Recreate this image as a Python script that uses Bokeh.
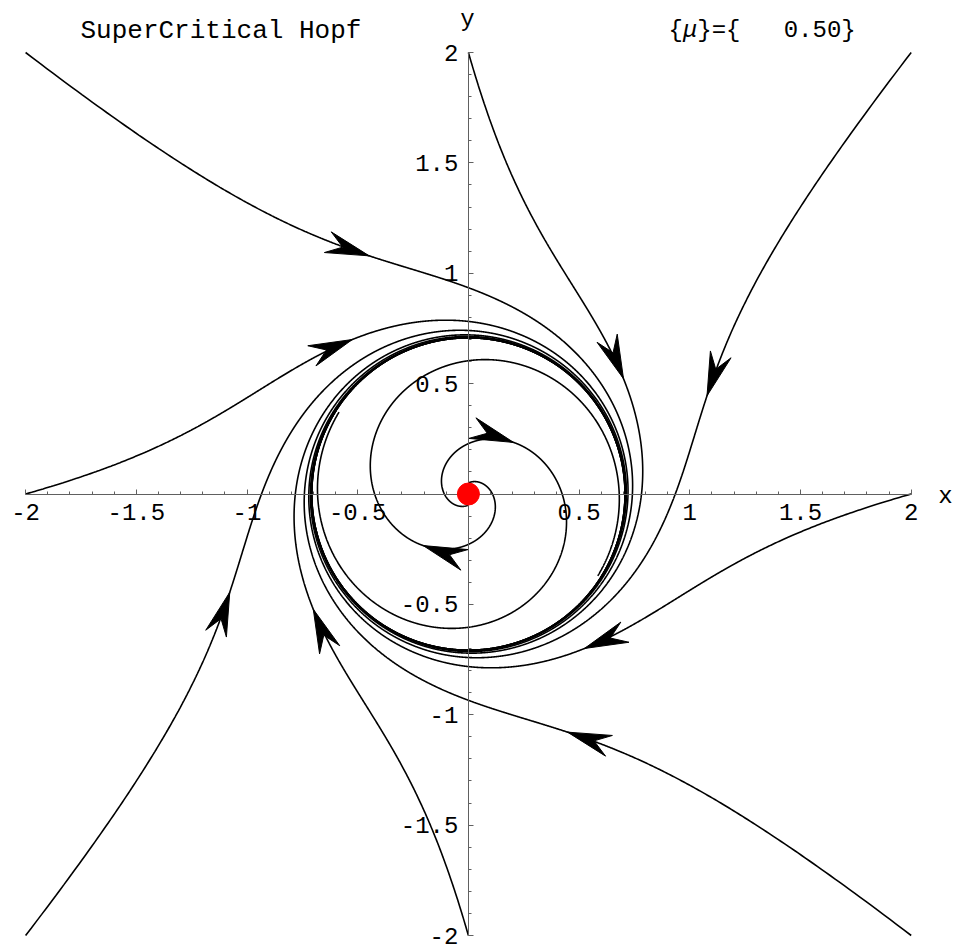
import numpy as np
from bokeh.plotting import figure
from bokeh.models import Range1d, FixedTicker, Label
from bokeh.embed import file_html
from bokeh.resources import INLINE

# ---------------- data ----------------
mu = 0.5                      # bifurcation parameter shown in the chart
# initial conditions of the trajectories
start_x = [-2.0, 0.0, 2.0, 2.0, 2.0, 0.0, -2.0, -2.0, 0.0, 0.0]
start_y = [2.0, 2.0, 2.0, 0.0, -2.0, -2.0, -2.0, 0.0, 0.05, -0.05]
t_end = [8.42, 8.42, 8.42, 8.42, 8.42, 8.42, 8.42, 8.42, 8.42, 8.42]
# arrow-head tip positions along each trajectory
arrow_x = [-0.446, 0.700, 1.080, 0.525, 0.446, -0.700, -1.080, -0.525, -0.196, 0.196]
arrow_y = [1.080, 0.523, 0.445, -0.700, -1.080, -0.523, -0.445, 0.700, -0.209, 0.209]
# equilibrium point
fixed_x = [0.0]
fixed_y = [0.0]
# axes ticks
x_ticks = [-2, -1.5, -1, -0.5, 0.5, 1, 1.5, 2]
x_tick_labels = ["-2", "-1.5", "-1", "-0.5", "0.5", "1", "1.5", "2"]
y_ticks = [-2, -1.5, -1, -0.5, 0.5, 1, 1.5, 2]
y_tick_labels = ["-2", "-1.5", "-1", "-0.5", "0.5", "1", "1.5", "2"]
minor_ticks = [k / 10 for k in range(-20, 21) if k % 5 != 0]
title_text = "SuperCritical Hopf"
param_text = ["{", "\u03bc", "}={\u00a0\u00a0\u00a00.50}"]

# ---------------- model integration ----------------
def field(x, y):
    r2 = x * x + y * y
    return mu * x + y - x * r2, -x + mu * y - y * r2

def integrate(x0, y0, T, dt=0.002):
    n = int(round(T / dt))
    xs = np.empty(n + 1); ys = np.empty(n + 1)
    x, y = x0, y0
    xs[0], ys[0] = x, y
    for i in range(n):
        k1x, k1y = field(x, y)
        k2x, k2y = field(x + 0.5 * dt * k1x, y + 0.5 * dt * k1y)
        k3x, k3y = field(x + 0.5 * dt * k2x, y + 0.5 * dt * k2y)
        k4x, k4y = field(x + dt * k3x, y + dt * k3y)
        x += dt / 6 * (k1x + 2 * k2x + 2 * k3x + k4x)
        y += dt / 6 * (k1y + 2 * k2y + 2 * k3y + k4y)
        xs[i + 1], ys[i + 1] = x, y
    return xs, ys

trajs = [integrate(a, b, T) for a, b, T in zip(start_x, start_y, t_end)]

# ---------------- figure ----------------
W, H = 955, 951
SX, SY = 221.4, 220.75          # pixels per unit
OX, OY = 467.9, 493.5           # origin inside the canvas
p = figure(width=W, height=H, output_backend="svg", toolbar_location=None,
           x_range=Range1d(-OX / SX, (W - OX) / SX),
           y_range=Range1d(-(H - OY) / SY, OY / SY),
           min_border=0, min_border_left=0, min_border_right=0,
           min_border_top=0, min_border_bottom=0)
p.grid.visible = False
p.outline_line_color = None
p.background_fill_color = "white"
p.border_fill_color = "white"

axis_col = "#606060"
for ax, ticks, labels in ((p.xaxis[0], x_ticks, x_tick_labels),
                          (p.yaxis[0], y_ticks, y_tick_labels)):
    ax.fixed_location = 0
    ax.bounds = (-2, 2)
    ax.ticker = FixedTicker(ticks=ticks, minor_ticks=minor_ticks)
    ax.major_label_overrides = {t: s for t, s in zip(ticks, labels)}
    ax.axis_line_color = axis_col
    ax.axis_line_width = 1
    ax.major_tick_line_color = axis_col
    ax.minor_tick_line_color = axis_col
    ax.major_tick_in = 5
    ax.major_tick_out = 0
    ax.minor_tick_in = 3
    ax.minor_tick_out = 0
    ax.major_label_text_font = "Liberation Mono"
    ax.major_label_text_font_size = "24px"
    ax.major_label_text_color = "black"
    ax.major_label_standoff = 10

# trajectories
p.multi_line([t[0].tolist() for t in trajs], [t[1].tolist() for t in trajs],
             line_color="black", line_width=1.6)

# arrow heads
L = 45.0          # px
half = np.radians(14)
notch = 0.62
px_list, py_list = [], []
for (xs, ys), ax_, ay_ in zip(trajs, arrow_x, arrow_y):
    d = (xs - ax_) ** 2 + (ys - ay_) ** 2
    i = int(np.argmin(d))
    j0, j1 = max(i - 4, 0), min(i + 4, len(xs) - 1)
    dx = (xs[j1] - xs[j0]) * SX
    dy = (ys[j1] - ys[j0]) * SY
    n = np.hypot(dx, dy)
    bx, by = -dx / n, -dy / n     # backward unit vector (pixel space, y up)
    tx, ty = xs[i], ys[i]
    pts = []
    for ang, ln in ((0, 0), (half, L), (0, notch * L), (-half, L)):
        c, s = np.cos(ang), np.sin(ang)
        vx, vy = bx * c - by * s, bx * s + by * c
        pts.append((tx + vx * ln / SX, ty + vy * ln / SY))
    px_list.append([q[0] for q in pts])
    py_list.append([q[1] for q in pts])
p.patches(px_list, py_list, fill_color="black", line_color="black", line_width=1)

# fixed point (drawn above the axes)
p.scatter(fixed_x, fixed_y, size=22, color="red", line_color="red", level="overlay")

# texts (positions in page pixels converted to data units)
def dx_(px): return (px - OX) / SX
def dy_(py): return (OY - py) / SY

p.add_layout(Label(x=dx_(80), y=dy_(30), text=title_text, text_font="Liberation Mono",
                   text_font_size="26px", text_baseline="middle", text_align="left",
                   text_color="black"))
cw = 14.4
fonts = ["normal", "italic", "normal"]
offs = [0, 1, 2]
for t, st, o in zip(param_text, fonts, offs):
    p.add_layout(Label(x=dx_(668 + o * cw), y=dy_(30), text=t, text_font="Liberation Mono",
                       text_font_size="24px", text_font_style=st, text_baseline="middle",
                       text_align="left", text_color="black"))
p.add_layout(Label(x=dx_(467), y=dy_(19), text="y", text_font="Liberation Mono",
                   text_font_size="24px", text_baseline="middle", text_align="center",
                   text_color="black"))
p.add_layout(Label(x=dx_(945), y=dy_(496), text="x", text_font="Liberation Mono",
                   text_font_size="24px", text_baseline="middle", text_align="center",
                   text_color="black"))

open("out.html", "w").write(file_html(p, INLINE))
